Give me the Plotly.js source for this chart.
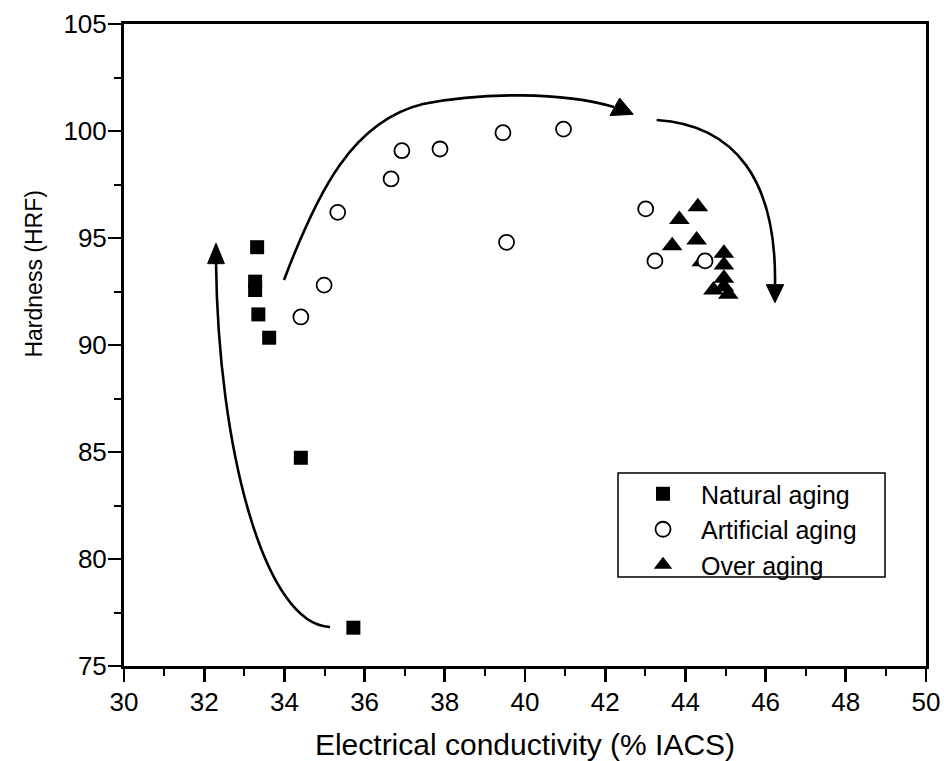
<!DOCTYPE html>
<html>
<head>
<meta charset="utf-8">
<script src="https://cdn.plot.ly/plotly-3.0.1.min.js"></script>
<style>html,body{margin:0;padding:0;background:#fff;}#chart{width:944px;height:761px;}</style>
</head>
<body>
<div id="chart"></div>
<script>
// Data
const naturalX = [33.32, 33.27, 33.27, 33.35, 33.62, 34.41, 35.72];
const naturalY = [94.57, 92.96, 92.57, 91.43, 90.34, 84.73, 76.79];

const artificialX = [34.41, 34.99, 35.33, 36.66, 36.93, 37.88, 39.45, 40.96, 39.54, 43.01, 43.24, 44.49];
const artificialY = [91.31, 92.80, 96.20, 97.76, 99.08, 99.16, 99.92, 100.09, 94.80, 96.36, 93.93, 93.93];

const overX = [44.31, 43.85, 44.28, 43.67, 44.41, 44.96, 44.96, 44.96, 44.96, 44.70, 45.07];
const overY = [96.46, 95.87, 94.91, 94.64, 93.89, 94.29, 93.74, 93.12, 92.72, 92.57, 92.37];

const seriesNames = ["Natural aging", "Artificial aging", "Over aging"];
const xTitle = "Electrical conductivity (% IACS)";
const yTitle = "Hardness (HRF)";

// Guide arrows (annotation curves, in data coordinates)
const leftCurve = "M35.137,76.822 C33.516,76.916 32.344,85.093 32.294,93.925";
const leftHead = "M32.294,94.76 L32.085,93.80 L32.504,93.80 Z";
const topCurve = "M33.990,93.037 C34.838,97.243 35.711,100.467 37.456,101.262 C38.953,101.822 40.948,101.822 42.219,101.121";
const topHead = "M42.70,100.78 L42.36,101.54 L42.12,100.72 Z";
const rightCurve = "M43.284,100.514 C45.237,100.280 46.284,97.710 46.234,92.757";
const rightHead = "M46.234,91.98 L46.017,92.82 L46.451,92.82 Z";

const FONT = "Liberation Sans, Arial, sans-serif";

const traces = [
  {x: naturalX, y: naturalY, name: seriesNames[0], type: "scatter", mode: "markers", legendrank: 1,
   marker: {symbol: "square", size: 14, color: "#000"}},
  {x: overX, y: overY, name: seriesNames[2], type: "scatter", mode: "markers", legendrank: 3,
   marker: {symbol: "triangle-up", size: 18, color: "#000"}},
  {x: artificialX, y: artificialY, name: seriesNames[1], type: "scatter", mode: "markers", legendrank: 2,
   marker: {symbol: "circle", size: 15, color: "#fff", line: {color: "#000", width: 1.8}}}
];

const curveLine = {color: "#000", width: 2.6};
const shapes = [
  {type: "path", xref: "x", yref: "y", path: leftCurve, line: curveLine},
  {type: "path", xref: "x", yref: "y", path: leftHead, line: {color: "#000", width: 1}, fillcolor: "#000"},
  {type: "path", xref: "x", yref: "y", path: topCurve, line: curveLine},
  {type: "path", xref: "x", yref: "y", path: topHead, line: {color: "#000", width: 1}, fillcolor: "#000"},
  {type: "path", xref: "x", yref: "y", path: rightCurve, line: curveLine},
  {type: "path", xref: "x", yref: "y", path: rightHead, line: {color: "#000", width: 1}, fillcolor: "#000"},
  // legend frame
  {type: "rect", xref: "paper", yref: "paper", x0: 0.616, x1: 0.9489, y0: 0.1386, y1: 0.3006,
   line: {color: "#000", width: 1.5}, fillcolor: "rgba(0,0,0,0)", layer: "above"}
];

const layout = {
  width: 944, height: 761,
  margin: {l: 124, r: 18, t: 24, b: 95},
  paper_bgcolor: "#fff", plot_bgcolor: "#fff",
  font: {family: FONT, color: "#000"},
  showlegend: true,
  legend: {
    x: 0.6247, y: 0.3037, xanchor: "left", yanchor: "top",
    borderwidth: 0, bgcolor: "rgba(0,0,0,0)",
    font: {family: FONT, size: 25, color: "#000"},
    itemwidth: 66, tracegroupgap: 0
  },
  xaxis: {
    range: [30, 50], dtick: 2, tick0: 30,
    showgrid: false, zeroline: false,
    showline: true, linecolor: "#000", linewidth: 3, mirror: true,
    ticks: "outside", ticklen: 13, tickwidth: 2.6, tickcolor: "#000",
    minor: {dtick: 1, ticks: "outside", ticklen: 7, tickwidth: 2, tickcolor: "#000", showgrid: false},
    tickfont: {family: FONT, size: 26, color: "#000"},
    ticklabelstandoff: -2,
    title: {text: xTitle, font: {family: FONT, size: 30, color: "#000"}, standoff: 24}
  },
  yaxis: {
    range: [75, 105], dtick: 5, tick0: 75,
    showgrid: false, zeroline: false,
    showline: true, linecolor: "#000", linewidth: 3, mirror: true,
    ticks: "outside", ticklen: 13, tickwidth: 2.6, tickcolor: "#000",
    minor: {dtick: 2.5, ticks: "outside", ticklen: 7, tickwidth: 2, tickcolor: "#000", showgrid: false},
    tickfont: {family: FONT, size: 26, color: "#000"},
    ticklabelstandoff: -4,
    title: {text: ""}
  },
  annotations: [
    {text: yTitle, xref: "paper", yref: "paper", x: -0.112, y: 0.61,
     xanchor: "center", yanchor: "middle", textangle: -90, showarrow: false,
     font: {family: FONT, size: 23, color: "#000"}}
  ],
  shapes: shapes
};

Plotly.newPlot("chart", traces, layout, {displayModeBar: false, staticPlot: true});
</script>
</body>
</html>
